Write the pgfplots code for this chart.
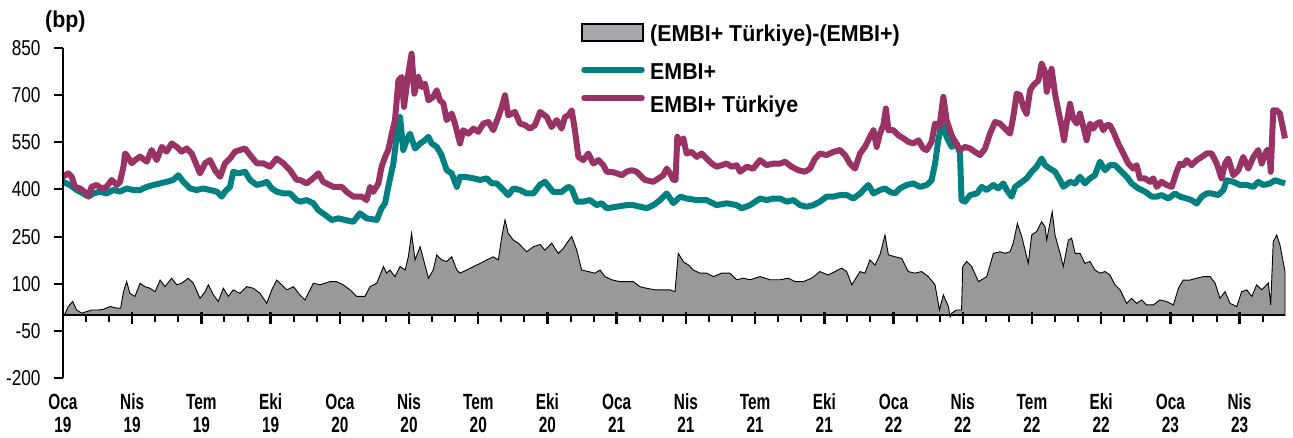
\documentclass[border=0pt]{standalone}
\usepackage{fontspec}
\setmainfont{Liberation Sans}
\newfontfamily\xlabfont{Liberation Sans}[FakeStretch=0.70]
\newfontfamily\ylabfont{Liberation Sans}[FakeStretch=0.80]
\newfontfamily\legfont{Liberation Sans}[FakeStretch=0.93]
\usepackage{pgfplots}
\pgfplotsset{compat=1.18}
\definecolor{embiteal}{HTML}{008080}
\definecolor{turpurple}{HTML}{993366}
\definecolor{areagray}{HTML}{999999}
\definecolor{leggray}{HTML}{A8A8AC}

\begin{document}
% spread: (EMBI+ Turkiye)-(EMBI+), bp; x = months since Jan 2019
\pgfplotstableread{
m v
0.00 0
0.10 7
0.23 28
0.42 44
0.59 17
0.81 7
1.03 12
1.24 17
1.53 17
1.75 19
2.04 28
2.33 23
2.50 23
2.62 75
2.76 107
2.90 70
3.12 60
3.34 102
3.55 91
3.77 86
3.99 75
4.21 112
4.42 91
4.71 118
4.93 97
5.14 102
5.43 118
5.65 102
5.94 54
6.16 75
6.30 97
6.52 65
6.73 44
6.95 86
7.17 60
7.38 81
7.67 70
7.96 91
8.25 86
8.54 70
8.83 38
9.05 81
9.26 112
9.48 97
9.70 81
9.99 91
10.27 65
10.49 49
10.85 102
11.14 97
11.57 107
11.86 107
12.15 97
12.44 81
12.73 60
13.09 60
13.31 91
13.60 102
13.89 155
14.03 134
14.17 144
14.39 123
14.61 155
14.83 144
14.97 186
15.11 260
15.26 176
15.48 218
15.65 171
15.84 118
16.05 144
16.20 192
16.41 176
16.63 171
16.85 186
17.07 144
17.21 134
17.50 144
17.79 155
18.08 165
18.37 176
18.65 186
18.87 176
19.02 250
19.16 303
19.30 260
19.52 239
19.74 229
20.10 202
20.39 218
20.68 225
20.89 207
21.18 229
21.47 197
21.69 213
21.83 229
22.05 250
22.27 207
22.48 144
22.77 139
23.06 134
23.28 144
23.49 123
23.78 113
24.14 107
24.43 107
24.72 107
25.01 91
25.30 86
25.66 81
25.95 81
26.31 81
26.53 75
26.67 197
26.89 170
27.11 160
27.32 144
27.61 134
27.90 134
28.19 123
28.55 134
28.91 134
29.20 113
29.49 118
29.78 113
30.21 123
30.65 113
31.08 113
31.44 118
31.73 107
32.09 107
32.45 118
32.81 139
33.17 128
33.46 139
33.75 150
33.97 139
34.19 97
34.55 139
34.76 134
34.98 176
35.20 160
35.41 192
35.63 255
35.78 192
36.06 186
36.35 181
36.64 139
36.93 134
37.22 139
37.51 123
37.80 97
37.99 17
38.16 65
38.38 28
38.45 -5
38.52 7
38.74 17
38.95 17
39.00 155
39.17 171
39.39 155
39.68 107
40.04 123
40.33 197
40.62 202
40.83 197
41.05 202
41.19 229
41.37 292
41.56 250
41.70 208
41.84 165
41.99 255
42.20 266
42.42 297
42.57 281
42.64 239
42.78 292
42.88 329
43.00 255
43.22 197
43.36 155
43.58 239
43.72 245
43.87 197
44.08 197
44.30 165
44.52 171
44.73 144
44.95 134
45.17 139
45.38 128
45.60 97
45.82 81
46.11 38
46.32 54
46.54 38
46.76 49
46.97 33
47.26 33
47.55 49
47.84 44
48.13 33
48.35 86
48.56 112
48.85 112
49.14 118
49.43 123
49.72 123
49.94 102
50.15 54
50.37 75
50.59 38
50.88 28
51.09 75
51.31 81
51.53 60
51.74 97
51.96 81
52.25 102
52.35 33
52.46 234
52.61 255
52.75 224
52.97 139
}\spread

% EMBI+, bp
\pgfplotstableread{
m v
0.00 424
0.30 414
0.59 398
0.88 387
1.10 377
1.32 387
1.60 393
1.89 387
2.18 398
2.47 393
2.76 403
3.05 398
3.34 398
3.63 408
3.92 414
4.21 419
4.49 424
4.78 430
5.00 445
5.22 424
5.51 403
5.79 398
6.08 403
6.37 398
6.66 393
6.88 377
7.02 393
7.24 408
7.38 456
7.60 451
7.89 456
8.11 430
8.40 414
8.68 419
8.83 424
9.05 403
9.26 393
9.55 387
9.84 387
10.13 366
10.27 361
10.56 366
10.85 356
11.07 334
11.36 319
11.65 303
11.94 308
12.22 303
12.58 297
12.87 324
13.16 308
13.60 303
13.81 340
13.96 356
14.10 408
14.32 482
14.46 567
14.61 630
14.75 525
14.90 556
15.04 577
15.26 530
15.48 546
15.69 556
15.84 567
15.98 546
16.20 535
16.41 509
16.63 461
16.85 451
17.07 408
17.21 440
17.43 440
17.79 435
18.08 430
18.37 435
18.58 419
18.80 419
19.02 403
19.30 382
19.52 403
19.81 398
20.10 387
20.39 387
20.68 415
20.89 424
21.25 392
21.61 392
21.90 408
22.05 403
22.27 361
22.55 361
22.84 366
23.13 350
23.35 356
23.57 340
24.00 345
24.43 350
24.72 350
25.01 345
25.30 340
25.59 350
25.88 366
26.17 387
26.46 356
26.75 377
27.03 371
27.47 366
27.90 366
28.33 350
28.77 356
29.20 350
29.42 340
29.78 350
30.21 371
30.50 366
30.79 371
31.08 371
31.37 361
31.66 366
31.95 350
32.24 345
32.52 350
32.81 361
33.10 377
33.39 377
33.68 382
33.97 382
34.26 371
34.55 387
34.91 414
35.13 387
35.41 398
35.63 403
35.85 392
36.06 387
36.28 403
36.57 414
36.86 419
37.15 408
37.44 414
37.65 429
37.80 482
37.94 556
38.09 612
38.30 567
38.52 535
38.74 546
38.88 514
38.95 366
39.10 361
39.32 382
39.61 387
39.82 408
40.04 398
40.33 414
40.54 403
40.76 419
40.91 398
41.12 377
41.27 408
41.48 419
41.77 435
41.99 456
42.20 472
42.42 498
42.57 477
42.78 466
43.00 456
43.22 429
43.36 408
43.65 424
43.87 419
44.08 440
44.30 419
44.52 435
44.73 445
44.95 488
45.17 461
45.38 477
45.60 477
45.82 461
46.11 440
46.32 419
46.61 403
46.90 393
47.19 377
47.41 377
47.62 382
47.91 371
48.20 387
48.42 377
48.71 371
48.92 366
49.14 355
49.36 377
49.57 387
49.79 387
50.08 382
50.30 398
50.44 429
50.73 424
51.02 414
51.31 414
51.60 408
51.81 424
52.03 414
52.32 419
52.54 429
52.75 424
52.97 419
}\embi

% EMBI+ Turkiye, bp
\pgfplotstableread{
m v
0.00 440
0.23 451
0.38 440
0.52 408
0.74 403
1.03 387
1.10 377
1.24 408
1.46 414
1.68 403
1.89 408
2.11 430
2.33 414
2.47 424
2.62 472
2.69 514
2.76 509
2.98 483
3.12 493
3.34 504
3.63 488
3.84 525
4.06 493
4.28 535
4.49 520
4.71 546
4.93 535
5.14 520
5.36 530
5.58 514
5.94 451
6.16 483
6.37 493
6.59 461
6.81 440
7.02 483
7.24 498
7.46 520
7.67 525
7.89 530
8.11 509
8.40 483
8.68 483
8.97 472
9.26 498
9.55 483
9.84 461
10.13 430
10.27 430
10.56 419
10.92 440
11.07 451
11.28 424
11.72 408
12.08 408
12.30 392
12.58 377
12.95 377
13.16 366
13.31 408
13.45 392
13.67 419
13.81 472
13.96 503
14.10 525
14.25 577
14.39 620
14.54 746
14.68 757
14.78 662
14.97 768
15.11 831
15.23 704
15.40 757
15.55 725
15.69 736
15.84 683
16.05 694
16.20 715
16.34 683
16.49 673
16.63 620
16.85 641
16.99 609
17.21 546
17.35 588
17.57 577
17.79 593
18.00 583
18.22 609
18.44 614
18.65 588
18.87 630
19.02 662
19.16 699
19.30 635
19.45 641
19.59 646
19.81 609
20.03 604
20.24 593
20.46 604
20.68 646
20.97 630
21.18 598
21.40 620
21.61 593
21.76 630
21.90 635
22.05 651
22.19 588
22.34 503
22.55 493
22.77 514
22.99 482
23.21 493
23.42 477
23.57 456
23.78 456
24.00 451
24.22 445
24.43 456
24.65 461
24.87 456
25.08 440
25.23 430
25.59 424
25.81 435
26.02 445
26.17 466
26.31 451
26.46 430
26.55 430
26.63 567
26.74 546
26.89 562
27.03 514
27.25 519
27.47 503
27.68 514
27.90 498
28.12 482
28.33 472
28.55 477
28.77 482
28.98 472
29.20 477
29.35 456
29.64 472
29.92 466
30.21 493
30.50 477
30.79 482
31.08 482
31.30 488
31.58 472
31.87 461
32.16 456
32.38 466
32.60 498
32.81 514
33.10 509
33.39 519
33.68 525
33.90 509
34.11 482
34.33 466
34.55 514
34.76 535
34.98 567
35.13 588
35.27 535
35.41 577
35.56 604
35.67 657
35.78 588
35.99 588
36.21 572
36.43 562
36.64 551
36.86 546
37.08 556
37.29 530
37.44 525
37.65 551
37.80 609
37.99 599
38.16 694
38.30 620
38.52 572
38.67 551
38.88 525
39.10 535
39.32 530
39.53 519
39.75 509
39.97 530
40.18 577
40.40 614
40.62 609
40.83 593
41.05 577
41.19 630
41.34 704
41.48 700
41.63 660
41.77 640
41.92 715
42.06 731
42.28 746
42.42 799
42.57 773
42.64 710
42.78 757
42.85 783
43.00 704
43.14 651
43.29 599
43.39 556
43.50 609
43.65 672
43.79 625
43.94 609
44.08 641
44.23 599
44.37 556
44.52 609
44.66 593
44.81 609
44.95 614
45.09 588
45.24 604
45.38 604
45.53 583
45.74 546
45.96 514
46.18 482
46.39 466
46.54 477
46.68 435
46.90 435
47.12 424
47.26 435
47.41 408
47.62 424
47.84 414
48.06 408
48.27 456
48.42 482
48.56 477
48.71 493
48.92 477
49.14 493
49.36 503
49.57 514
49.79 514
50.01 482
50.22 435
50.37 482
50.51 498
50.73 445
50.95 461
51.16 503
51.38 466
51.60 503
51.81 525
51.96 482
52.18 525
52.29 525
52.35 456
52.46 651
52.61 651
52.75 641
52.97 562
}\tur

\begin{tikzpicture}
\begin{axis}[
  at={(63pt,58.7pt)}, anchor=south west,
  scale only axis, width=1222pt, height=330.6pt,
  xmin=0, xmax=52.97, ymin=-200, ymax=850,
  axis y line=left, axis x line=middle,
  axis line style={-, line width=2pt},
  axis on top,
  ytick={-200,-50,100,250,400,550,700,850},
  xtick={0,3,...,51},
  xticklabels={Oca\\19,Nis\\19,Tem\\19,Eki\\19,Oca\\20,Nis\\20,Tem\\20,Eki\\20,Oca\\21,Nis\\21,Tem\\21,Eki\\21,Oca\\22,Nis\\22,Tem\\22,Eki\\22,Oca\\23,Nis\\23},
  hide obscured x ticks=false,
  tick align=outside, major tick length=9pt,
  tick style={black, line width=2pt},
  xtick style={draw=none},
  xticklabel style={font=\xlabfont\bfseries\fontsize{22}{23}\selectfont, align=center, yshift=-66pt},
  yticklabel style={font=\ylabfont\fontsize{21.5}{22}\selectfont, xshift=-10pt},
  /pgf/number format/assume math mode=true,
  clip=false,
]
\addplot[fill=areagray, draw=black, line width=0.9pt] table[x=m, y=v] {\spread} \closedcycle;
\addplot[embiteal, line width=6pt, line join=round] table[x=m, y=v] {\embi};
\addplot[turpurple, line width=6pt, line join=round] table[x=m, y=v] {\tur};
\end{axis}
% zero line with month ticks (y = 0 sits at 121.67pt): long at quarters
\draw[black, line width=2pt] (63pt,121.67pt) -- (1285pt,121.67pt);
\foreach \q in {0,3,...,51} {
  \draw[black, line width=2.4pt] ({63pt+\q*23.07pt},125pt) -- ({63pt+\q*23.07pt},113pt);
}
\foreach \q in {1,...,52} {
  \draw[black, line width=2pt] ({63pt+\q*23.07pt},121.7pt) -- ({63pt+\q*23.07pt},115.5pt);
}
% legend and unit label
\node[anchor=base west, inner sep=0pt, font=\legfont\bfseries\fontsize{23}{25}\selectfont] at (45pt,409pt) {(bp)};
\draw[fill=leggray, draw=black, line width=1.5pt] (582pt,413pt) rectangle (643pt,396pt);
\node[anchor=base west, inner sep=0pt, font=\legfont\bfseries\fontsize{23}{25}\selectfont] at (650pt,395pt) {(EMBI+ Türkiye)-(EMBI+)};
\draw[embiteal, line width=5.5pt, line cap=round] (584pt,367pt) -- (642pt,367pt);
\node[anchor=base west, inner sep=0pt, font=\legfont\bfseries\fontsize{23}{25}\selectfont] at (650pt,357pt) {EMBI+};
\draw[turpurple, line width=5.5pt, line cap=round] (584pt,339pt) -- (642pt,339pt);
\node[anchor=base west, inner sep=0pt, font=\legfont\bfseries\fontsize{23}{25}\selectfont] at (650pt,324pt) {EMBI+ Türkiye};
\pgfresetboundingbox
\path (0pt,0pt) rectangle (1293pt,437pt);
\end{tikzpicture}
\end{document}
